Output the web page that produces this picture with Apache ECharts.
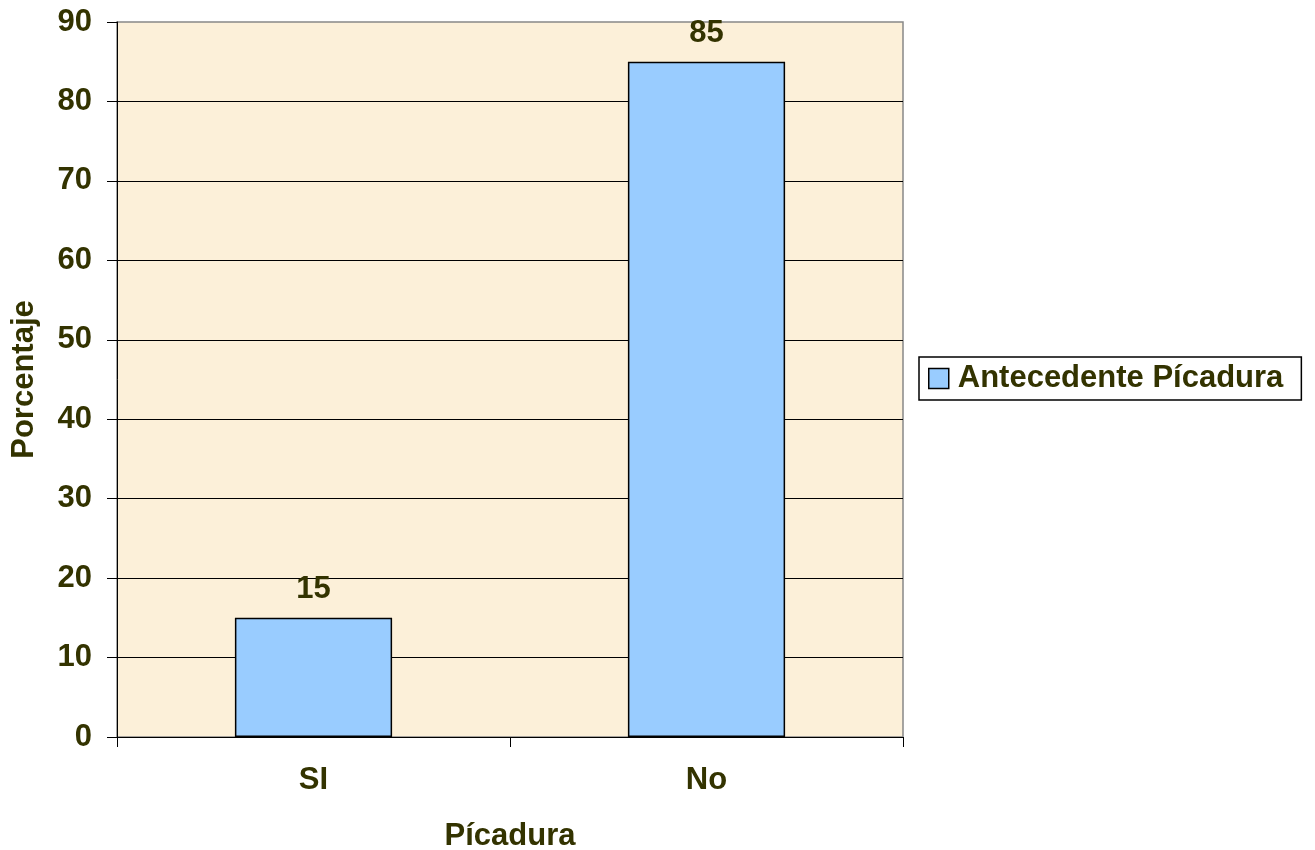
<!DOCTYPE html>
<html>
<head>
<meta charset="utf-8">
<script src="https://cdn.jsdelivr.net/npm/echarts@6/dist/echarts.min.js"></script>
<style>html,body{margin:0;padding:0;background:#fff}#c{width:1315px;height:850px}</style>
</head>
<body>
<div id="c"></div>
<script>
const categories = ['SI', 'No'];
const values = [15, 85];
const seriesName = 'Antecedente Pícadura';
const xTitle = 'Pícadura';
const yTitle = 'Porcentaje';

const txt = '#333300';
const font = 'Liberation Sans, Arial, sans-serif';
const fs = 31;
const chart = echarts.init(document.getElementById('c'), null, {renderer: 'canvas'});
chart.setOption({
  animation: false,
  backgroundColor: '#ffffff',
  grid: {left: 117, top: 22, width: 786, height: 715, show: true, backgroundColor: '#fcf0d9', borderColor: '#888888', borderWidth: 1.5, outerBoundsMode: 'none', containLabel: false},
  legend: {
    data: [seriesName], left: 919, top: 357, orient: 'vertical',
    backgroundColor: '#ffffff', borderColor: '#000000', borderWidth: 1.5,
    padding: [6, 18, 6, 9], itemWidth: 20, itemHeight: 20, itemGap: 6,
    icon: 'rect',
    itemStyle: {borderColor: '#000', borderWidth: 1.5},
    textStyle: {color: txt, fontSize: fs, fontWeight: 'bold', fontFamily: font, padding: [0, 0, 0, 4], width: 328}
  },
  xAxis: {
    type: 'category', data: categories,
    name: xTitle, nameLocation: 'middle', nameGap: 84,
    nameTextStyle: {color: txt, fontSize: fs, fontWeight: 'bold', fontFamily: font},
    axisLine: {lineStyle: {color: '#000', width: 1}},
    axisTick: {show: true, length: 10, lineStyle: {color: '#000'}},
    axisLabel: {color: txt, fontSize: fs, fontWeight: 'bold', fontFamily: font, margin: 28}
  },
  yAxis: {
    type: 'value', min: 0, max: 90, interval: 10,
    name: yTitle, nameLocation: 'middle', nameGap: 77, nameRotate: 90,
    nameTextStyle: {color: txt, fontSize: fs, fontWeight: 'bold', fontFamily: font},
    axisLine: {show: true, lineStyle: {color: '#000', width: 1}},
    axisTick: {show: true, length: 10, lineStyle: {color: '#000'}},
    axisLabel: {color: txt, fontSize: fs, fontWeight: 'bold', fontFamily: font, margin: 25},
    splitLine: {show: true, showMaxLine: false, lineStyle: {color: '#000', width: 1}}
  },
  series: [{
    name: seriesName, type: 'bar', data: values, barWidth: '40%',
    itemStyle: {color: '#99ccff', borderColor: '#000', borderWidth: 1.5},
    label: {show: true, position: 'top', distance: 13, color: txt, fontSize: fs, fontWeight: 'bold', fontFamily: font}
  }]
});
</script>
</body>
</html>
